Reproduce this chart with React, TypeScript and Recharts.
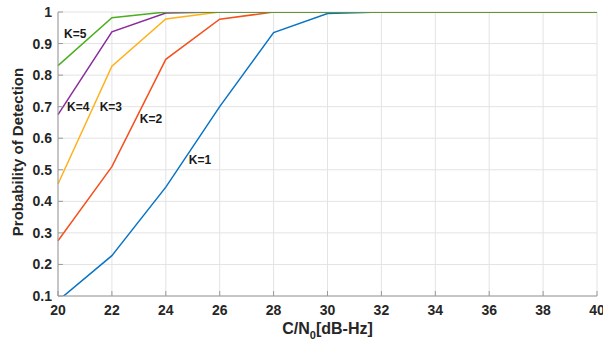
import React from "react";
import { LineChart, Line, XAxis, YAxis, CartesianGrid, ReferenceDot } from "recharts";

const snr = [20, 22, 24, 26, 28, 30, 32, 34, 36, 38, 40];
const k1 = [0.085, 0.228, 0.445, 0.7, 0.935, 0.995, 1, 1, 1, 1, 1];
const k2 = [0.275, 0.51, 0.85, 0.977, 1, 1, 1, 1, 1, 1, 1];
const k3 = [0.455, 0.828, 0.978, 1, 1, 1, 1, 1, 1, 1, 1];
const k4 = [0.675, 0.937, 0.997, 1, 1, 1, 1, 1, 1, 1, 1];
const k5 = [0.83, 0.982, 1, 1, 1, 1, 1, 1, 1, 1, 1];
const xTicks = [20, 22, 24, 26, 28, 30, 32, 34, 36, 38, 40];
const yTicks = [0.1, 0.2, 0.3, 0.4, 0.5, 0.6, 0.7, 0.8, 0.9, 1];
const seriesNames = ["K=1", "K=2", "K=3", "K=4", "K=5"];
const seriesColors = ["#0A74C4", "#F4511E", "#FFB11B", "#8A2C9C", "#4CAF22"];
const annotX = [25.27, 23.45, 21.96, 20.75, 20.64];
const annotY = [0.531, 0.661, 0.7, 0.7, 0.931];

const series = [k1, k2, k3, k4, k5];
const data = snr.map((x, i) => {
  const row: any = { x };
  series.forEach((s, j) => (row["k" + (j + 1)] = s[i]));
  return row;
});

const FONT = "'Liberation Sans', Arial, sans-serif";
const tickStyle = { fill: "#262626", fontSize: 14, fontWeight: 700, fontFamily: FONT };

const XTitle = (props: any) => {
  const vb = props.viewBox || {};
  const cx = vb.x + vb.width / 2;
  return (
    <text x={cx} y={vb.y + 38} textAnchor="middle" fill="#262626" fontSize={16} fontWeight={700} fontFamily={FONT}>
      <tspan>C/N</tspan>
      <tspan fontSize={11} dy={5}>0</tspan>
      <tspan dy={-5}>[dB-Hz]</tspan>
    </text>
  );
};

export default function App() {
  return (
    <div style={{ position: "absolute", left: 0, top: 0, width: 603, height: 345, background: "#fff" }}>
      <LineChart width={603} height={345} data={data} margin={{ top: 12, right: 6, left: 0, bottom: 0 }}>
        <CartesianGrid stroke="#E3E3E3" strokeWidth={1} horizontal vertical />
        <XAxis
          dataKey="x"
          type="number"
          domain={[20, 40]}
          ticks={xTicks}
          height={49}
          tick={tickStyle}
          stroke="#9A9A9A"
          tickSize={-5}
          tickMargin={14}
          interval={0}
          label={<XTitle />}
        />
        <XAxis xAxisId="top" dataKey="x" type="number" domain={[20, 40]} ticks={xTicks} orientation="top" height={0} tick={false} stroke="#9A9A9A" tickSize={-5} />
        <YAxis
          type="number"
          domain={[0.1, 1]}
          ticks={yTicks}
          allowDataOverflow
          width={58}
          tick={tickStyle}
          stroke="#9A9A9A"
          tickSize={-5}
          tickMargin={11}
          interval={0}
          tickFormatter={(v: number) => String(Math.round(v * 10) / 10)}
          label={{
            value: "Probability of Detection",
            angle: -90,
            position: "center",
            dx: -11,
            dy: -2,
            style: { fill: "#262626", fontSize: 15, fontWeight: 700, fontFamily: FONT, textAnchor: "middle" },
          }}
        />
        <YAxis yAxisId="right" orientation="right" type="number" domain={[0.1, 1]} ticks={yTicks} width={0} tick={false} stroke="#9A9A9A" tickSize={-5} />
        {seriesNames.map((n, j) => (
          <Line
            key={n}
            dataKey={"k" + (j + 1)}
            stroke={seriesColors[j]}
            strokeWidth={1.5}
            dot={false}
            isAnimationActive={false}
            type="linear"
          />
        ))}
        {seriesNames.map((n, j) => (
          <ReferenceDot
            key={"a" + n}
            x={annotX[j]}
            y={annotY[j]}
            r={0}
            stroke="none"
            label={{ value: n, position: "center", fill: "#1a1a1a", fontSize: 12, fontWeight: 700, fontFamily: FONT }}
          />
        ))}
      </LineChart>
    </div>
  );
}
